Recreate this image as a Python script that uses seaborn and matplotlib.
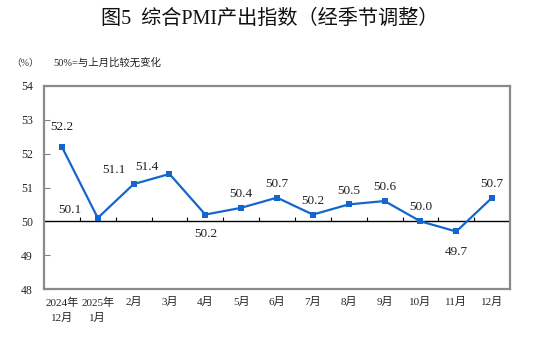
import numpy as np
import pandas as pd
import matplotlib
matplotlib.use("Agg")
import matplotlib.pyplot as plt
import seaborn as sns

months = ["2024年\n12月", "2025年\n1月", "2月", "3月", "4月", "5月", "6月",
          "7月", "8月", "9月", "10月", "11月", "12月"]
values = [52.2, 50.1, 51.1, 51.4, 50.2, 50.4, 50.7, 50.2, 50.5, 50.6, 50.0, 49.7, 50.7]
y_ticks = [48, 49, 50, 51, 52, 53, 54]

sns.set_theme(style="white")
plt.rcParams['font.family'] = ['Liberation Serif', 'Noto Sans CJK SC', 'DejaVu Sans']

df = pd.DataFrame({"idx": np.arange(len(values)), "value": values})

fig = plt.figure(figsize=(5.39, 3.48), dpi=100)
ax = fig.add_axes([0.0816, 0.1695, 0.8647, 0.5834])

sns.lineplot(data=df, x="idx", y="value", ax=ax, color="#1466CC", linewidth=1.6,
             marker="s", markersize=4.5, markeredgewidth=0, markerfacecolor="#1466CC")

ax.axhline(50, color="black", linewidth=1.0, zorder=1)
bounds = np.arange(len(values) - 1) + 0.5
ax.vlines(bounds, 50, 50.12, color="black", linewidth=0.8, zorder=1)

# label offsets in points (dx, dy)
offsets = [(0, 14), (-20, 6), (-14, 10), (-16, 5), (0, -14), (0, 10), (0, 10),
           (0, 10), (0, 10), (0, 10), (0, 10), (0, -15), (0, 10)]
for i, v in enumerate(values):
    dx, dy = offsets[i]
    ax.annotate(f"{v:.1f}", (i, v), xytext=(dx, dy), textcoords="offset points",
                ha="center", va="center", fontsize=9.5, color="#222222")

ax.set_xlim(-0.5, len(values) - 0.5)
ax.set_ylim(48, 54)
ax.set_yticks(y_ticks)
ax.set_yticklabels([str(t) for t in y_ticks], fontsize=8.5)
ax.set_xticks(np.arange(len(values)))
ax.set_xticklabels(months, fontsize=8, linespacing=1.6)
ax.tick_params(axis="x", length=0, pad=6)
ax.tick_params(axis="y", direction="in", length=4, width=0.8, color="#808080", pad=8, left=True)
ax.set_xlabel("")
ax.set_ylabel("")

for s in ax.spines.values():
    s.set_visible(True)
    s.set_color("#8a8a8a")
    s.set_linewidth(1.6)

fig.text(0.50, 0.945, "图5  综合PMI产出指数（经季节调整）", ha="center", va="center",
         fontsize=14.5, color="#111111")
fig.text(0.047, 0.818, "（%）", ha="center", va="center", fontsize=7, color="#333333")
fig.text(0.098, 0.820, "50%=与上月比较无变化", ha="left", va="center", fontsize=7.5, color="#222222")

fig.savefig("out.png", dpi=100)
